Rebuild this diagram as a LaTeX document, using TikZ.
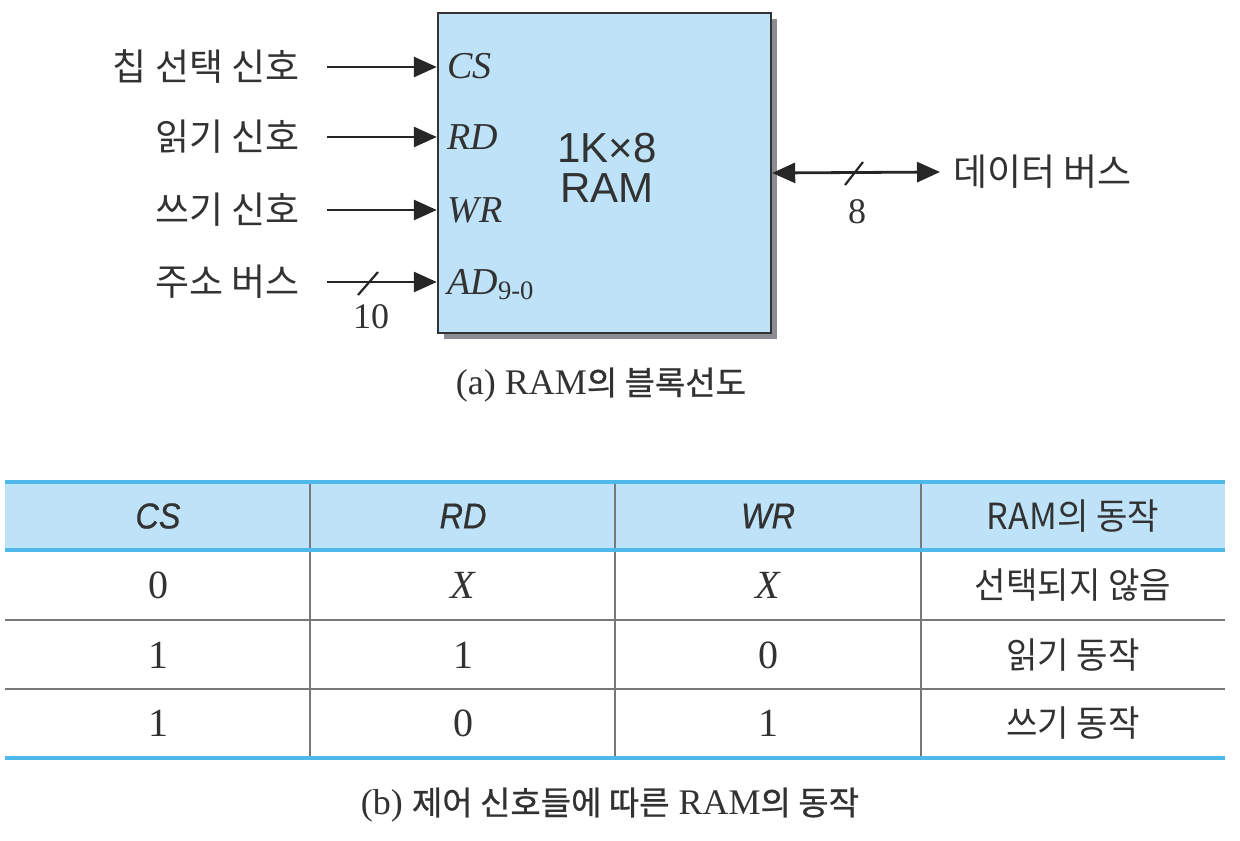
\documentclass[tikz,border=0pt]{standalone}
\usepackage{fontspec}
\setmainfont{Liberation Serif}
\setsansfont{Liberation Sans}
\newfontfamily\kr{Noto Sans CJK KR}
\newfontfamily\krnarrow[FakeStretch=0.95]{Noto Sans CJK KR}
\newfontfamily\krcap[FakeBold=0.8]{Noto Sans CJK KR}
\newfontfamily\hdsans[FakeStretch=0.9,FakeBold=0.6]{Liberation Sans}
\usepackage{tikz}
\usetikzlibrary{shadows}
\usetikzlibrary{arrows.meta,calc,positioning}
\definecolor{ramblue}{RGB}{190,226,248}
\definecolor{lineblue}{RGB}{80,185,235}
\definecolor{gridgray}{RGB}{120,120,120}
\definecolor{shadowgray}{RGB}{140,140,148}
\definecolor{textgray}{RGB}{50,50,50}
\tikzstyle{ramblock}=[rectangle,draw=black!80,line width=1.2pt,fill=ramblue,minimum width=166.5pt,minimum height=160pt,inner sep=0pt,drop shadow={shadow xshift=3pt,shadow yshift=-3pt,opacity=1,fill=shadowgray}]
\tikzstyle{siglabel}=[anchor=east,inner sep=0pt,text=textgray,font=\kr\fontsize{18.5}{20}\selectfont]
\tikzstyle{portlabel}=[anchor=base west,inner sep=0pt,text=textgray,font=\fontsize{19}{22}\selectfont\itshape]
\tikzstyle{signal}=[draw,line width=1.4pt,black!85,-{Triangle[length=11.5pt,width=10pt]}]
\tikzstyle{bus}=[draw,line width=1.4pt,black!85,{Triangle[length=11.5pt,width=10pt]}-{Triangle[length=11.5pt,width=10pt]}]
\tikzstyle{slash}=[draw,line width=1.1pt,black!85]
\tikzstyle{buswidth}=[inner sep=0pt,text=textgray,font=\fontsize{18}{20}\selectfont]
\tikzstyle{caption}=[inner sep=0pt,text=textgray,font=\fontsize{18}{20}\selectfont]
\tikzstyle{headcell}=[inner sep=0pt,text=textgray,font=\hdsans\itshape\fontsize{18}{20}\selectfont]
\tikzstyle{numcell}=[inner sep=0pt,text=textgray,font=\fontsize{20}{22}\selectfont]
\tikzstyle{krcell}=[inner sep=0pt,text=textgray,font=\krnarrow\fontsize{18}{20}\selectfont]
\tikzstyle{gridline}=[draw,line width=1.2pt,gridgray]
\tikzstyle{blueline}=[draw,line width=1.8pt,lineblue]
\newcommand{\capkr}{\krcap\fontsize{16.5}{20}\selectfont}

\begin{document}
\begin{tikzpicture}[x=0.5pt,y=-0.5pt]
\useasboundingbox (0,0) rectangle (1240,840);

    % RAM block
    \node[ramblock] (ram) at (604.5,173) {};
    \node[align=center,inner sep=0pt,text=textgray,font=\sffamily\fontsize{21}{20}\selectfont] (size) at (607,168) {1K×8\\RAM};

    % input signals
    \foreach \y/ \name/ \sig/ \port in {67/cs/칩 선택 신호/CS, 137/rd/읽기 신호/RD, 210/wr/쓰기 신호/WR, 282/ad/주소 버스/{AD\textsubscript{\upshape 9-0}}}
    {
        \node[siglabel] (\name) at (300,\y) {\sig};
        \node[portlabel] (p\name) at (447,{\y+12}) {\port};
        \path[signal] ([xshift=13.5pt]\name.east) -- (\name.east -| ram.west);
    }
    \path[slash] ($(ad.east)+(58,13)$) -- ++(20,-23);
    \node[buswidth] (adw) at (371,317) {10};

    % data bus
    \node[siglabel,anchor=west] (dbus) at (953,172) {데이터 버스};
    \path[bus] (ram.east) -- ([xshift=-6.5pt]dbus.west);
    \path[slash] (845,185) -- ++(18,-23);
    \node[buswidth] (dw) at (857,212) {8};

    \node[caption] (capa) at (601,385) {(a) RAM{\capkr 의 블록선도}};

    % table
    \fill[ramblue] (5,482) rectangle (1225,550);
    \foreach \y in {620,689}
        \path[gridline] (5,\y) -- (1225,\y);
    \foreach \x in {310,615,921}
        \path[gridline] (\x,482) -- (\x,758);
    \foreach \y in {482,550,758}
        \path[blueline] (5,\y) -- (1225,\y);

    \foreach \pos/ \name/ \txt in {{(158,516)/hcs/CS},{(463,516)/hrd/RD},{(768,516)/hwr/WR}}
        \node[headcell] (\name) at \pos {\txt};
    \node[krcell] (hop) at (1073,516) {RAM의 동작};

    \foreach \y/ \r/ \a/ \b/ \c/ \d in {585/1/0/\textit{X}/\textit{X}/선택되지 않음, 655/2/1/1/0/읽기 동작, 723/3/1/0/1/쓰기 동작}
    {
        \node[numcell] (c\r a) at (158,\y) {\a};
        \node[numcell] (c\r b) at (463,\y) {\b};
        \node[numcell] (c\r c) at (768,\y) {\c};
        \node[krcell] (c\r d) at (1073,\y) {\d};
    }

    \node[caption] (capb) at (610,805) {(b) {\capkr 제어 신호들에 따른} RAM{\capkr 의 동작}};

\end{tikzpicture}
\end{document}
